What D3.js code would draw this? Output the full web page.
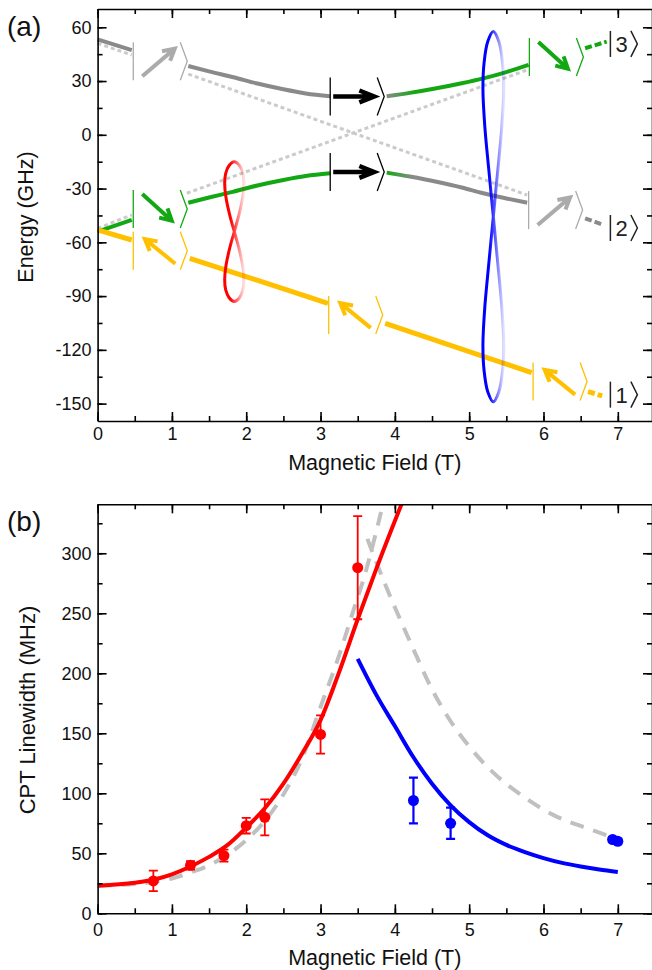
<!DOCTYPE html>
<html>
<head>
<meta charset="utf-8">
<script src="https://cdn.jsdelivr.net/npm/d3@7"></script>
<style>
body { margin: 0; background: #fff; }
</style>
</head>
<body>
<svg id="svg1" width="652" height="970"></svg>
<script>
// ---------- data ----------
// panel (a): energy levels (T, GHz), split where the ket labels sit
var upperLevel = [
  [[0, 53.3], [0.46, 47.3]],
  [[1.22, 38.4], [1.5, 35.4], [1.83, 32.1], [2.15, 28.6], [2.5, 25.4], [2.8, 23.1], [3.13, 21.5]],
  [[3.89, 21.5], [4.2, 23.4], [4.56, 26.0], [4.9, 28.8], [5.19, 31.5], [5.5, 35.0], [5.8, 39.0]],
  [[6.56, 48.3], [6.85, 52.0]]
];
var lowerLevel = [
  [[0, -54.0], [0.46, -47.5]],
  [[1.22, -37.9], [1.5, -35.0], [1.83, -31.7], [2.15, -28.3], [2.5, -25.2], [2.8, -23.0], [3.13, -21.5]],
  [[3.89, -21.1], [4.2, -23.3], [4.56, -26.2], [4.9, -29.4], [5.19, -32.6], [5.5, -35.5], [5.78, -37.9]],
  [[6.56, -46.6], [6.81, -50.3]]
];
var groundLevel = [
  [[0, -53.1], [0.46, -58.7]],
  [[1.24, -68.9], [3.1, -94.0]],
  [[3.87, -105.2], [5.84, -132.7]],
  [[6.6, -143.3], [6.79, -145.7]]
];
var crossingDown = [[[0, 51.1], [0.46, 44.5]], [[1.22, 33.9], [5.78, -33.6]]];
var crossingUp = [[[0, -52.2], [0.46, -44.7]], [[1.2, -32.6], [5.78, 36.2]]];

// spin kets: bar position (T), centre energy (GHz), arrow direction, colour group
var kets = [
  {x: 0.48, E: 41.0, arrow: "ne", tone: "pale"},
  {x: 0.48, E: -41.4, arrow: "se", tone: "green"},
  {x: 0.48, E: -64.7, arrow: "nw", tone: "yellow"},
  {x: 3.13, E: 21.4, arrow: "e", tone: "black"},
  {x: 3.13, E: -20.7, arrow: "e", tone: "black"},
  {x: 3.11, E: -100.5, arrow: "nw", tone: "yellow"},
  {x: 5.81, E: 43.4, arrow: "se", tone: "green"},
  {x: 5.80, E: -42.0, arrow: "ne", tone: "pale"},
  {x: 5.86, E: -137.7, arrow: "nw", tone: "yellow"}
];
var stateNames = ["3", "2", "1"];
var stateEnergy = [50.7, -52.0, -145.0];
var stateField = 6.90;

// figure-eight markers (T, GHz)
var redLoop = [
  [1.84, -15], [1.91, -17.1], [1.957, -21.6], [1.97, -27.1], [1.953, -34.9], [1.905, -44.3], [1.84, -54],
  [1.775, -63.7], [1.727, -73.1], [1.71, -80.9], [1.723, -86.4], [1.77, -90.9], [1.84, -93],
  [1.91, -90.9], [1.957, -86.4], [1.97, -80.9], [1.953, -73.1], [1.905, -63.7], [1.84, -54],
  [1.775, -44.3], [1.727, -34.9], [1.71, -27.1], [1.723, -21.6], [1.77, -17.1]
];
var blueLoop = [
  [5.325, 57.6], [5.40, 52], [5.45, 40], [5.465, 25.6], [5.44, 4.9], [5.385, -19.9], [5.325, -45.7],
  [5.265, -71.5], [5.21, -96.3], [5.185, -117], [5.20, -131.4], [5.25, -143.4], [5.325, -149],
  [5.40, -143.4], [5.45, -131.4], [5.465, -117], [5.44, -96.3], [5.385, -71.5], [5.325, -45.7],
  [5.265, -19.9], [5.21, 4.9], [5.185, 25.6], [5.20, 40], [5.25, 52]
];

// panel (b): CPT linewidth (MHz)
var redField = [0.75, 1.25, 1.7, 2.0, 2.25, 3.0, 3.5];
var redWidth = [27, 40, 48, 73, 80, 149, 288];
var redErr = [8.5, 3.5, 5, 6.5, 15, 16, 43];
var blueField = [4.25, 4.75, 6.93, 7.0];
var blueWidth = [94, 75, 61.5, 60];
var blueErr = [19, 13, 2, 2];
var redFit = [[0, 23], [0.5, 25.5], [0.75, 28], [1, 32.5], [1.25, 39], [1.5, 47], [1.75, 57], [2, 71.5],
  [2.25, 87.5], [2.5, 108], [2.75, 133], [3, 161], [3.25, 201], [3.5, 245], [3.75, 287], [4.09, 341]];
var blueFit = [[3.5, 212], [3.75, 182], [4, 156], [4.25, 130], [4.5, 108], [4.75, 90], [5, 76], [5.25, 65],
  [5.5, 57], [5.75, 51], [6, 46], [6.25, 42], [6.5, 39], [6.75, 36.5], [7, 34.5]];
var modelLow = [[0, 23], [0.5, 24.5], [0.75, 26], [1, 29], [1.25, 34], [1.5, 40], [1.75, 49], [2, 61],
  [2.25, 77], [2.5, 99], [2.75, 129], [3, 172], [3.25, 215], [3.44, 252], [3.6, 283], [3.7, 306], [3.84, 341]];
var modelHigh = [[3.63, 312], [3.89, 271], [4.07, 245], [4.25, 220], [4.48, 189], [4.75, 160], [5, 139],
  [5.31, 118], [5.69, 99], [6.13, 82], [6.58, 71], [7, 62]];

var fieldTicks = [0, 1, 2, 3, 4, 5, 6, 7];
var energyTicks = [-150, -120, -90, -60, -30, 0, 30, 60];
var widthTicks = [0, 50, 100, 150, 200, 250, 300];

// ---------- layout ----------
var svg = d3.select("#svg1");
var fontFamily = "'Liberation Sans', Arial, Helvetica, sans-serif";
var plotLeft = 97.6, plotRight = 652;
var panelA = {top: 9, bottom: 421};
var panelB = {top: 504.3, bottom: 913.3};

var x = d3.scaleLinear().domain([0, 7.46]).range([plotLeft, plotRight]),
    yA = d3.scaleLinear().domain([-159.7, 70.2]).range([panelA.bottom, panelA.top]),
    yB = d3.scaleLinear().domain([0, 340.8]).range([panelB.bottom, panelB.top]);

var colGray = "#8a8a8a", colPale = "#ababab", colGreen = "#13a813", colYellow = "#ffc000",
    colDotted = "#cbcbcb";
var toneColor = {pale: colPale, green: colGreen, yellow: colYellow, black: "#000"};

var defs = svg.append("defs");
defs.append("clipPath").attr("id", "clipB")
  .append("rect")
    .attr("x", plotLeft).attr("y", panelB.top)
    .attr("width", plotRight - plotLeft).attr("height", panelB.bottom - panelB.top);

function fadeGradient(id, color) {
  var gr = defs.append("linearGradient").attr("id", id)
      .attr("x1", 0).attr("x2", 1).attr("y1", 0).attr("y2", 0);
  gr.append("stop").attr("offset", 0.3).attr("stop-color", color).attr("stop-opacity", 1);
  gr.append("stop").attr("offset", 1).attr("stop-color", color).attr("stop-opacity", 0.12);
}
fadeGradient("fadeRed", "#ff0000");
fadeGradient("fadeBlue", "#0000ff");

function blendGradient(id, from, to, x0, x1) {
  var gr = defs.append("linearGradient").attr("id", id)
      .attr("gradientUnits", "userSpaceOnUse")
      .attr("x1", x(x0)).attr("x2", x(x1)).attr("y1", 0).attr("y2", 0);
  gr.append("stop").attr("offset", 0).attr("stop-color", from);
  gr.append("stop").attr("offset", 1).attr("stop-color", to);
}
blendGradient("grayToGreen", colGray, colGreen, 3.89, 4.25);
blendGradient("greenToGray", colGreen, colGray, 3.89, 4.25);

// ---------- panel (a) ----------
var lineA = d3.line()
    .x(function(d) { return x(d[0]); })
    .y(function(d) { return yA(d[1]); })
    .curve(d3.curveMonotoneX);

var gA = svg.append("g").attr("class", "panel-a");

crossingDown.concat(crossingUp).forEach(function(seg) {
  gA.append("path")
      .attr("d", lineA(seg))
      .attr("fill", "none")
      .attr("stroke", colDotted)
      .attr("stroke-width", 3)
      .attr("stroke-dasharray", "4,3");
});

function drawLevel(segs, colors, width) {
  segs.forEach(function(seg, i) {
    gA.append("path")
        .attr("d", lineA(seg))
        .attr("fill", "none")
        .attr("stroke", colors[i])
        .attr("stroke-width", width)
        .attr("stroke-dasharray", i == segs.length - 1 ? "7,3" : null);
  });
}
drawLevel(upperLevel, [colGray, colGray, "url(#grayToGreen)", colGreen], 4);
drawLevel(lowerLevel, [colGreen, colGreen, "url(#greenToGray)", colGray], 4);
drawLevel(groundLevel, [colYellow, colYellow, colYellow, colYellow], 5);

function arrowPath(tx, ty, hx, hy, len, ang) {
  var a = Math.atan2(hy - ty, hx - tx);
  var bx = hx - 2 * Math.cos(a), by = hy - 2 * Math.sin(a);
  return "M" + tx + "," + ty + "L" + bx + "," + by +
    "M" + (bx - len * Math.cos(a - ang)) + "," + (by - len * Math.sin(a - ang)) +
    "L" + bx + "," + by +
    "L" + (bx - len * Math.cos(a + ang)) + "," + (by - len * Math.sin(a + ang));
}

// arrow tail / head offsets from the bar, in px
var arrowShape = {
  ne: [9, 15, 43, -14],
  se: [9, -15, 40, 13],
  nw: [42, 13, 10, -13],
  e: [3, 0, 46, 0]
};

kets.forEach(function(k) {
  var x0 = x(k.x), cy = yA(k.E), col = toneColor[k.tone];
  var g = gA.append("g").attr("class", "ket");
  g.append("line")
      .attr("x1", x0).attr("x2", x0)
      .attr("y1", cy - 19).attr("y2", cy + 19)
      .attr("stroke", col).attr("stroke-width", 1.3);
  g.append("polyline")
      .attr("points", [[x0 + 47, cy - 19], [x0 + 54, cy], [x0 + 47, cy + 19]].join(" "))
      .attr("fill", "none")
      .attr("stroke", col).attr("stroke-width", 1.3);
  var s = arrowShape[k.arrow];
  var black = k.tone == "black";
  g.append("path")
      .attr("d", arrowPath(x0 + s[0], cy + s[1], x0 + s[2], cy + s[3], black ? 16 : 13, black ? 0.38 : 0.5))
      .attr("fill", "none")
      .attr("stroke", col)
      .attr("stroke-width", black ? 4.5 : 4)
      .attr("stroke-linejoin", "miter");
});

stateNames.forEach(function(n, i) {
  var x0 = x(stateField), cy = yA(stateEnergy[i]);
  var g = gA.append("g").attr("class", "state-label");
  g.append("line")
      .attr("x1", x0).attr("x2", x0)
      .attr("y1", cy - 13).attr("y2", cy + 13)
      .attr("stroke", "#222").attr("stroke-width", 1.5);
  g.append("text")
      .attr("x", x0 + 5).attr("y", cy + 8)
      .attr("font-family", fontFamily)
      .attr("font-size", 22)
      .attr("fill", "#222")
      .text(n);
  g.append("polyline")
      .attr("points", [[x0 + 20.5, cy - 13], [x0 + 27, cy], [x0 + 20.5, cy + 13]].join(" "))
      .attr("fill", "none")
      .attr("stroke", "#222").attr("stroke-width", 1.5);
});

var loopLine = d3.line()
    .x(function(d) { return x(d[0]); })
    .y(function(d) { return yA(d[1]); })
    .curve(d3.curveCatmullRomClosed);

gA.append("path")
    .attr("d", loopLine(redLoop))
    .attr("fill", "none")
    .attr("stroke", "url(#fadeRed)")
    .attr("stroke-width", 3);
gA.append("path")
    .attr("d", loopLine(blueLoop))
    .attr("fill", "none")
    .attr("stroke", "url(#fadeBlue)")
    .attr("stroke-width", 3);

// ---------- panel (b) ----------
var lineB = d3.line()
    .x(function(d) { return x(d[0]); })
    .y(function(d) { return yB(d[1]); })
    .curve(d3.curveMonotoneX);

var gB = svg.append("g").attr("class", "panel-b").attr("clip-path", "url(#clipB)");

[modelLow, modelHigh].forEach(function(seg) {
  gB.append("path")
      .attr("d", lineB(seg))
      .attr("fill", "none")
      .attr("stroke", "#c0c0c0")
      .attr("stroke-width", 4)
      .attr("stroke-dasharray", "14,10");
});
gB.append("path")
    .attr("d", lineB(redFit))
    .attr("fill", "none")
    .attr("stroke", "#ff0000")
    .attr("stroke-width", 4);
gB.append("path")
    .attr("d", lineB(blueFit))
    .attr("fill", "none")
    .attr("stroke", "#0000ff")
    .attr("stroke-width", 4);

function drawPoints(fields, widths, errs, color, barWidth) {
  fields.forEach(function(f, i) {
    var px = x(f), lo = yB(widths[i] - errs[i]), hi = yB(widths[i] + errs[i]);
    gB.append("path")
        .attr("d", "M" + px + "," + lo + "V" + hi +
          "M" + (px - 4.5) + "," + lo + "H" + (px + 4.5) +
          "M" + (px - 4.5) + "," + hi + "H" + (px + 4.5))
        .attr("fill", "none")
        .attr("stroke", color)
        .attr("stroke-width", barWidth);
    gB.append("circle")
        .attr("cx", px).attr("cy", yB(widths[i]))
        .attr("r", 5.5)
        .attr("fill", color);
  });
}
drawPoints(redField, redWidth, redErr, "#ff0000", 1.8);
drawPoints(blueField, blueWidth, blueErr, "#0000ff", 2.2);

// ---------- axes ----------
function styleAxis(sel) {
  sel.selectAll(".domain, .tick line").attr("stroke", "#000").attr("stroke-width", 1.6);
  sel.attr("font-family", fontFamily).attr("font-size", 18);
  sel.selectAll(".tick text").attr("fill", "#111");
}

function minorValues(domain, step) {
  return d3.range(Math.ceil(domain[0] / step) * step, domain[1], step);
}

function addFrame(y, top, bottom, yTicks, yStep, xPad) {
  var xMinor = minorValues(x.domain(), 0.5);
  var yMinor = minorValues(y.domain(), yStep / 2);

  svg.append("g").attr("transform", "translate(0," + bottom + ")")
      .call(d3.axisBottom(x).tickValues(fieldTicks).tickSize(-9).tickSizeOuter(0)
        .tickPadding(xPad).tickFormat(String))
      .call(styleAxis);
  svg.append("g").attr("transform", "translate(0," + bottom + ")")
      .call(d3.axisBottom(x).tickValues(xMinor).tickSize(-5).tickFormat(""))
      .call(styleAxis)
      .select(".domain").remove();
  svg.append("g").attr("transform", "translate(0," + top + ")")
      .call(d3.axisTop(x).tickValues(fieldTicks).tickSize(-9).tickSizeOuter(0).tickFormat(""))
      .call(styleAxis);
  svg.append("g").attr("transform", "translate(0," + top + ")")
      .call(d3.axisTop(x).tickValues(xMinor).tickSize(-5).tickFormat(""))
      .call(styleAxis)
      .select(".domain").remove();

  svg.append("g").attr("transform", "translate(" + plotLeft + ",0)")
      .call(d3.axisLeft(y).tickValues(yTicks).tickSize(-9).tickSizeOuter(0)
        .tickPadding(6).tickFormat(String))
      .call(styleAxis);
  svg.append("g").attr("transform", "translate(" + plotLeft + ",0)")
      .call(d3.axisLeft(y).tickValues(yMinor).tickSize(-5).tickFormat(""))
      .call(styleAxis)
      .select(".domain").remove();
  svg.append("g").attr("transform", "translate(" + plotRight + ",0)")
      .call(d3.axisRight(y).tickValues(yTicks).tickSize(-9).tickSizeOuter(0).tickFormat(""))
      .call(styleAxis);
  svg.append("g").attr("transform", "translate(" + plotRight + ",0)")
      .call(d3.axisRight(y).tickValues(yMinor).tickSize(-5).tickFormat(""))
      .call(styleAxis)
      .select(".domain").remove();
}
addFrame(yA, panelA.top, panelA.bottom, energyTicks, 30, 6);
addFrame(yB, panelB.top, panelB.bottom, widthTicks, 50, 10);

// ---------- titles ----------
function addText(tx, ty, str, size, rotate, anchor) {
  svg.append("text")
      .attr("transform", "translate(" + tx + "," + ty + ")" + (rotate ? " rotate(-90)" : ""))
      .attr("text-anchor", anchor)
      .attr("font-family", fontFamily)
      .attr("font-size", size)
      .attr("fill", "#111")
      .text(str);
}
var midX = (plotLeft + plotRight) / 2;
addText(midX, 469.5, "Magnetic Field (T)", 21.5, false, "middle");
addText(midX, 965, "Magnetic Field (T)", 21.5, false, "middle");
addText(33, 217, "Energy (GHz)", 21.5, true, "middle");
addText(35, 710, "CPT Linewidth (MHz)", 22, true, "middle");
addText(7, 36, "(a)", 28, false, "start");
addText(7, 531, "(b)", 28, false, "start");
</script>
</body>
</html>
